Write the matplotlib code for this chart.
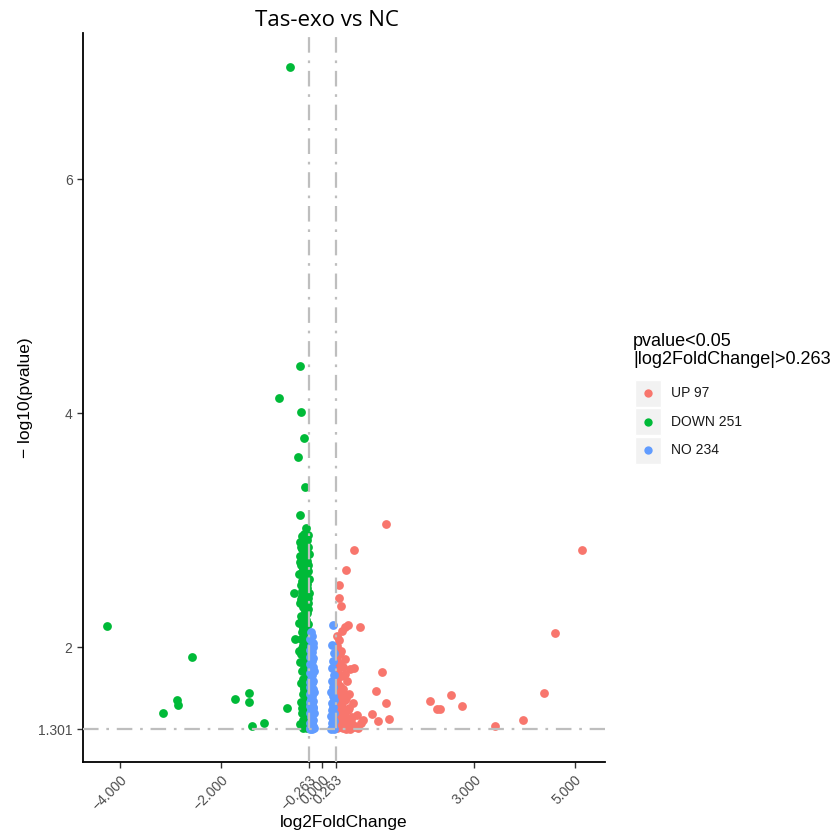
import matplotlib
matplotlib.use('Agg')
import matplotlib.pyplot as plt
from matplotlib.patches import Rectangle

# ---- data ----
up_x = [1.255, 0.634, 5.14, 0.475, 4.61, 4.39, 2.54, 2.13, 2.28, 2.34, 2.76, 3.43, 3.98,
        0.33, 0.33, 0.37, 0.75, 0.51, 0.45, 0.40, 0.63, 0.98, 1.33, 1.10, 0.80, 0.77, 1.18, 1.06, 1.26,
        0.30, 0.34, 0.29, 0.38, 0.31, 0.45, 0.35, 0.29, 0.42, 0.55, 0.32, 0.38, 0.30, 0.48, 0.35,
        0.29, 0.42, 0.33, 0.38, 0.52, 0.30, 0.45, 0.35, 0.60, 0.29, 0.40, 0.33, 0.50, 0.37, 0.30,
        0.45, 0.33, 0.58, 0.40, 0.29, 0.48, 0.35, 0.65, 0.30, 0.42, 0.68, 0.55,
        0.36, 0.44, 0.31, 0.39, 0.47, 0.34, 0.41, 0.53, 0.29, 0.37, 0.44, 0.32, 0.57, 0.39, 0.62,
        0.30, 0.46, 0.36, 0.71, 0.50]
up_y = [3.05, 2.83, 2.83, 2.66, 2.12, 1.61, 1.59, 1.54, 1.47, 1.47, 1.50, 1.33, 1.38,
        2.53, 2.42, 2.35, 2.17, 2.19, 2.17, 2.14, 1.82, 1.43, 1.39, 1.37, 1.38, 1.35, 1.79, 1.63, 1.52,
        2.10, 2.06, 2.01, 1.97, 1.93, 1.90, 1.86, 1.83, 1.83, 1.81, 1.78, 1.75, 1.71, 1.71, 1.67,
        1.64, 1.64, 1.60, 1.58, 1.60, 1.56, 1.55, 1.52, 1.52, 1.49, 1.49, 1.46, 1.46, 1.43, 1.41,
        1.41, 1.38, 1.40, 1.36, 1.34, 1.33, 1.32, 1.33, 1.31, 1.31, 1.42, 1.30,
        1.95, 1.77, 1.68, 1.62, 1.57, 1.50, 1.44, 1.48, 1.38, 1.35, 1.37, 1.45, 1.36, 1.53, 1.32,
        1.88, 1.30, 1.40, 1.31, 1.39]

down_x = [-0.64, -0.44, -0.86, -0.42, -0.36, -0.48, -0.34, -0.44,
          -4.27, -2.59, -3.15, -2.88, -2.85, -1.72, -1.45, -1.45, -1.39, -1.16, -0.69, -0.54, -0.47, -0.57,
          -0.33, -0.36, -0.40, -0.31, -0.44, -0.35, -0.29, -0.41, -0.37, -0.32, -0.45, -0.39, -0.30,
          -0.35, -0.42, -0.33, -0.38, -0.29, -0.46, -0.36, -0.31, -0.40, -0.34, -0.43, -0.30, -0.37,
          -0.33, -0.41, -0.29, -0.36, -0.44, -0.32, -0.39, -0.35, -0.30, -0.42, -0.37, -0.33, -0.46,
          -0.31, -0.38, -0.34, -0.40, -0.29, -0.36, -0.43, -0.32, -0.38, -0.30, -0.35, -0.41, -0.33,
          -0.29, -0.37, -0.44, -0.31, -0.36, -0.40, -0.33, -0.29, -0.38, -0.34, -0.42, -0.30, -0.36,
          -0.32, -0.39, -0.29, -0.35, -0.43, -0.31, -0.37, -0.33, -0.40, -0.29, -0.35, -0.38, -0.31,
          -0.44, -0.34, -0.30, -0.39,
          -0.28, -0.42, -0.27, -0.34, -0.28, -0.40, -0.27, -0.31, -0.38, -0.27, -0.43, -0.28, -0.33,
          -0.40, -0.28, -0.35, -0.28, -0.40, -0.33, -0.28, -0.37, -0.28, -0.36, -0.28,
          -0.39, -0.32, -0.45, -0.30, -0.36, -0.41, -0.29, -0.34, -0.38, -0.31, -0.43, -0.35,
          -0.30, -0.37, -0.32, -0.40, -0.34, -0.31]
down_y = [6.96, 4.40, 4.13, 4.01, 3.79, 3.63, 3.37, 3.13,
          2.18, 1.92, 1.44, 1.55, 1.51, 1.56, 1.61, 1.53, 1.33, 1.35, 1.48, 2.07, 1.97, 2.46,
          3.02, 2.97, 2.95, 2.92, 2.90, 2.88, 2.86, 2.84, 2.82, 2.80, 2.78, 2.76, 2.74,
          2.72, 2.70, 2.68, 2.66, 2.65, 2.63, 2.61, 2.59, 2.57, 2.55, 2.53, 2.51, 2.49,
          2.47, 2.44, 2.42, 2.40, 2.38, 2.36, 2.34, 2.31, 2.29, 2.27, 2.25, 2.23, 2.21,
          2.19, 2.17, 2.15, 2.13, 2.11, 2.09, 2.07, 2.05, 2.02, 2.00, 1.98, 1.96, 1.93,
          1.91, 1.89, 1.87, 1.85, 1.82, 1.80, 1.78, 1.76, 1.73, 1.71, 1.69, 1.67, 1.64,
          1.62, 1.60, 1.58, 1.55, 1.53, 1.51, 1.49, 1.46, 1.44, 1.42, 1.40, 1.38, 1.36,
          1.34, 1.32, 1.31, 1.31,
          2.96, 2.86, 2.80, 2.77, 2.70, 2.64, 2.58, 2.54, 2.52, 2.46, 2.41, 2.33, 2.30,
          2.24, 2.20, 2.12, 2.04, 1.99, 1.86, 1.80, 1.66, 1.52, 1.45, 1.34,
          2.92, 2.83, 2.73, 2.67, 2.56, 2.48, 2.38, 2.26, 2.16, 2.08, 1.94, 1.84,
          1.74, 1.61, 1.56, 1.48, 1.39, 1.44]

no_x = [-0.22, -0.20, -0.24, -0.19, -0.22, -0.25, -0.20, -0.23, -0.18, -0.21, -0.24, -0.19, -0.22,
        -0.25, -0.20, -0.23, -0.18, -0.21, -0.24, -0.19, -0.22, -0.25, -0.20, -0.23, -0.18, -0.21,
        -0.24, -0.19, -0.22, -0.25, -0.20, -0.23, -0.18, -0.21, -0.24, -0.19, -0.22, -0.25, -0.20, -0.17,
        -0.18, -0.25, -0.17, -0.25, -0.17, -0.18, -0.25, -0.17, -0.21, -0.24,
        0.22, 0.20, 0.23, 0.21, 0.19, 0.23, 0.20, 0.22, 0.18, 0.21, 0.23, 0.19, 0.22, 0.20, 0.23,
        0.18, 0.21, 0.24, 0.19, 0.22, 0.20, 0.23, 0.18]
no_y = [2.13, 2.10, 2.07, 2.04, 2.01, 1.98, 1.96, 1.93, 1.91, 1.88, 1.86, 1.83, 1.81,
        1.78, 1.76, 1.73, 1.71, 1.69, 1.66, 1.64, 1.62, 1.60, 1.58, 1.56, 1.54, 1.52,
        1.50, 1.48, 1.46, 1.44, 1.42, 1.40, 1.38, 1.36, 1.35, 1.33, 1.32, 1.31, 1.30, 1.31,
        2.00, 1.92, 1.80, 1.70, 1.62, 1.49, 1.53, 1.44, 1.34, 1.30,
        2.19, 2.02, 1.95, 1.88, 1.82, 1.76, 1.71, 1.66, 1.62, 1.58, 1.55, 1.52, 1.49, 1.46, 1.44,
        1.41, 1.39, 1.37, 1.35, 1.33, 1.31, 1.30, 1.30]

groups = ['UP 97', 'DOWN 251', 'NO 234']
colors = ['#F8766D', '#00BA38', '#619CFF']
fc_cut = 0.263
p_cut = 1.301
x_ticks = [-4.0, -2.0, -0.263, 0.0, 0.263, 3.0, 5.0]
x_labels = ['\u22124.000', '\u22122.000', '\u22120.263', '0.000', '0.263', '3.000', '5.000']
y_ticks = [1.301, 2, 4, 6]
y_labels = ['1.301', '2', '4', '6']

plt.rcParams['font.family'] = ['Liberation Sans', 'DejaVu Sans']
fig = plt.figure(figsize=(8.35, 8.32), dpi=100)
ax = fig.add_axes([83 / 835, 1 - 762 / 832, (605 - 83) / 835, (762 - 33) / 832])

for xs, ys, c in [(up_x, up_y, colors[0]), (down_x, down_y, colors[1]), (no_x, no_y, colors[2])]:
    ax.scatter(xs, ys, s=40, c=c, linewidths=0, zorder=2)

dash = dict(color='#BEBEBE', lw=1.6, dashes=(7, 3.5, 1.2, 3.5), zorder=3)
ax.axvline(-fc_cut, **dash)
ax.axvline(fc_cut, **dash)
ax.axhline(p_cut, **dash)

ax.set_xlim(-4.74, 5.60)
ax.set_ylim(1.019, 7.25)
ax.set_xticks(x_ticks)
ax.set_xticklabels(x_labels, rotation=45, ha='right', rotation_mode='anchor')
ax.set_yticks(y_ticks)
ax.set_yticklabels(y_labels)
ax.tick_params(colors='#333333', labelcolor='#4D4D4D', labelsize=10, length=4, width=1)
for s in ['top', 'right']:
    ax.spines[s].set_visible(False)
for s in ['left', 'bottom']:
    ax.spines[s].set_linewidth(1.3)
ax.set_xlabel('log2FoldChange', fontsize=12.5, labelpad=2)
ax.set_ylabel('\u2212 log10(pvalue)', fontsize=12.5, labelpad=4)

fig.text(327 / 835, 1 - 20 / 832, 'Tas-exo vs NC', ha='center', va='center',
         fontsize=16, family=['Open Sans', 'DejaVu Sans'])

# legend drawn by hand in pixel coordinates
lax = fig.add_axes([0, 0, 1, 1])
lax.set_xlim(0, 835)
lax.set_ylim(832, 0)
lax.axis('off')
lax.text(633, 342, 'pvalue<0.05', fontsize=13, va='center', ha='left')
lax.text(633, 360, '|log2FoldChange|>0.263', fontsize=13, va='center', ha='left')
for i, (g, c) in enumerate(zip(groups, colors)):
    yc = 393 + i * 28.5
    lax.add_patch(Rectangle((635, yc - 13.5), 26, 27, facecolor='#F2F2F2', edgecolor='white', lw=1))
    lax.scatter([648], [yc], s=36, c=c, linewidths=0)
    lax.text(671, yc, g, fontsize=10, va='center', ha='left', color='#1A1A1A')

fig.savefig('out.png', dpi=100)
